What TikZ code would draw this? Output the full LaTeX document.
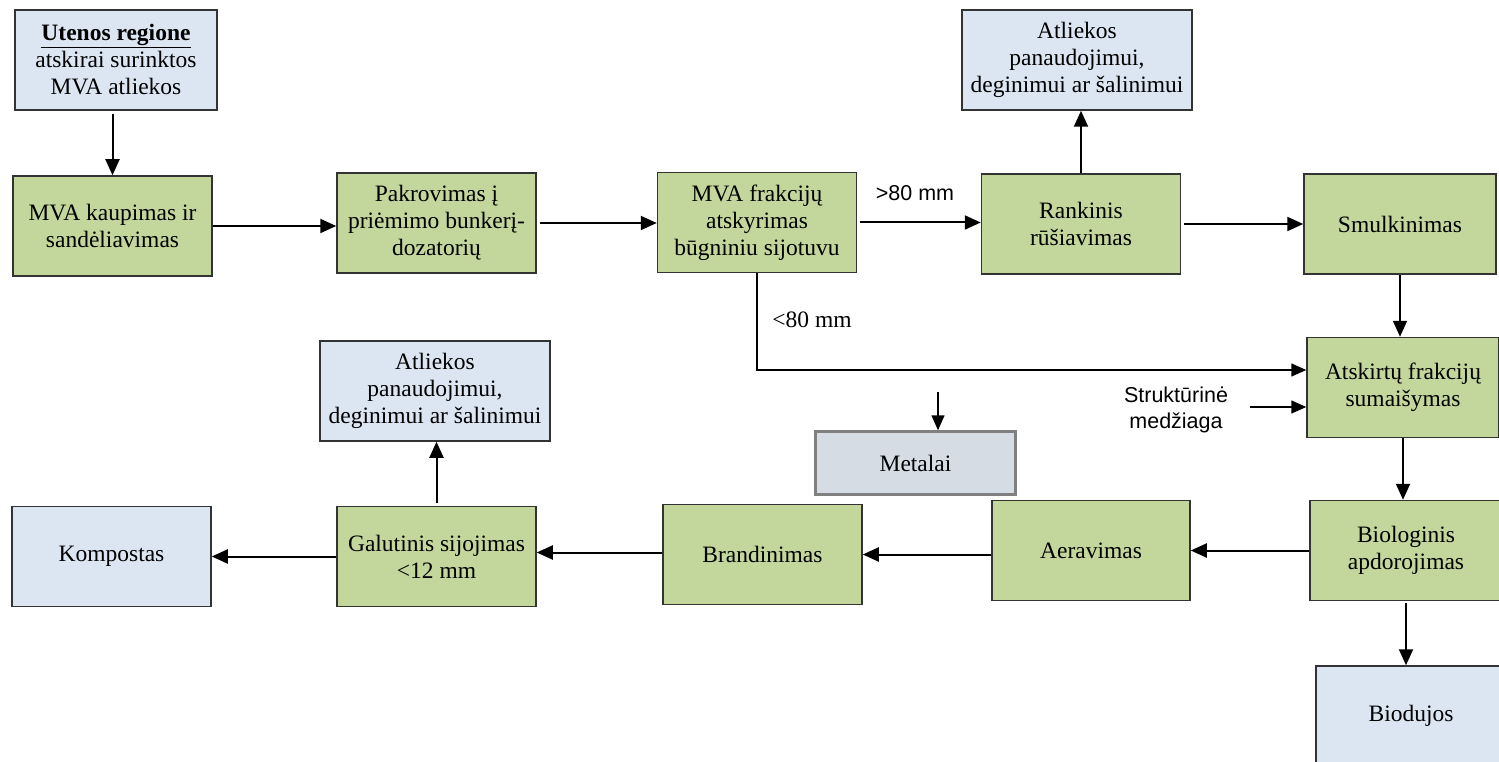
\documentclass[tikz,border=0pt]{standalone}
\usepackage{fontspec}
\setmainfont{Liberation Serif}
\newfontfamily\sansf{Liberation Sans}
\usetikzlibrary{arrows.meta}
\definecolor{gfill}{HTML}{C3D69B}
\definecolor{bfill}{HTML}{DCE6F2}
\definecolor{mfill}{HTML}{D6DCE4}
\tikzset{
  base/.style={draw=black!80, line width=1.5pt, align=center, inner sep=2pt,
    font=\fontsize{23.5}{27}\selectfont, minimum height=100pt},
  gbox/.style={base, fill=gfill, minimum width=199pt},
  bbox/.style={base, fill=bfill, minimum width=200pt},
  wbox/.style={base, fill=bfill, minimum width=230pt},
  mbox/.style={base, draw=black!50, line width=2.5pt, fill=mfill, minimum width=200pt, minimum height=63pt},
  arr/.style={line width=2pt, -{Triangle[length=16pt,width=14pt]}},
  thinarr/.style={line width=1.5pt, -{Triangle[length=15pt,width=13pt]}},
  lbl/.style={font=\fontsize{23.5}{27}\selectfont, align=center, inner sep=0pt},
  slbl/.style={font=\sansf\fontsize{21.5}{26}\selectfont, align=center, inner sep=0pt}
}
\begin{document}
\begin{tikzpicture}[x=1pt,y=-1pt]
\useasboundingbox (0,0) rectangle (1499,762);
\clip (0,0) rectangle (1499,762);
% top row
\node[bbox, minimum width=202pt] (uten) at (116,60) {\textbf{\underline{Utenos regione}}\\atskirai surinktos\\MVA atliekos};
\node[gbox] (kaup) at (112.5,226) {MVA kaupimas ir\\sandėliavimas};
\node[gbox] (pakr) at (436.5,223) {Pakrovimas į\\priėmimo bunkerį-\\dozatorių};
\node[gbox] (frak) at (757,222.5) {MVA frakcijų\\atskyrimas\\būgniniu sijotuvu};
\node[wbox] (atl1) at (1077,60) {Atliekos\\panaudojimui,\\deginimui ar šalinimui};
\node[gbox] (rank) at (1081,224) {Rankinis\\rūšiavimas};
\node[gbox, minimum width=192pt] (smulk) at (1400,224) {Smulkinimas};
% middle
\node[gbox, minimum width=192pt] (atsk) at (1403,387.5) {Atskirtų frakcijų\\sumaišymas};
\node[slbl] (strukt) at (1176,410) {Struktūrinė\\medžiaga};
\node[mbox] (metal) at (915.5,463) {Metalai};
\node[wbox] (atl2) at (435,391) {Atliekos\\panaudojimui,\\deginimui ar šalinimui};
% bottom row
\node[gbox, minimum width=192pt] (bio) at (1406,550.5) {Biologinis\\apdorojimas};
\node[gbox, minimum width=198pt] (aer) at (1091,550.5) {Aeravimas};
\node[gbox] (brand) at (762.5,554.5) {Brandinimas};
\node[gbox] (gal) at (436.5,556.5) {Galutinis sijojimas\\<12 mm};
\node[bbox, minimum width=199pt] (komp) at (111.5,556.5) {Kompostas};
\node[bbox, minimum width=190pt] (biod) at (1411,716) {Biodujos};
% labels
\node[slbl] (gt) at (915,193) {>80 mm};
\node[lbl] (lt) at (812,320) {<80 mm};
% connectors
\draw[arr] ([yshift=-3pt]kaup.north |- uten.south) -- (kaup.north);
\draw[arr] (kaup.east) -- (kaup.east -| pakr.west);
\draw[arr] ([xshift=3pt]pakr.east) -- (pakr.east -| frak.west);
\draw[arr] ([xshift=3pt]frak.east) -- (frak.east -| rank.west);
\draw[arr] (rank.north) -- (rank.north |- atl1.south);
\draw[arr] ([xshift=3pt]rank.east) -- (rank.east -| smulk.west);
\draw[arr] (smulk.south) -- (smulk.south |- atsk.north);
\draw[thinarr] (frak.south) |- ([yshift=17.5pt]atsk.west);
\draw[thinarr] ([xshift=22pt,yshift=3pt]strukt.east) -- ([yshift=3pt]strukt.east -| atsk.west);
\coordinate (mtop) at (938,392);
\draw[thinarr] (mtop) -- (mtop |- metal.north);
\draw[arr] (atsk.south) -- (atsk.south |- bio.north);
\draw[arr] (bio.west) -- (bio.west -| aer.east);
\draw[arr] ([yshift=-4pt]aer.west) -- ([yshift=-4pt]aer.west -| brand.east);
\draw[arr] ([yshift=2pt]brand.west) -- ([yshift=2pt]brand.west -| gal.east);
\draw[arr] (gal.west) -- (gal.west -| komp.east);
\draw[arr] ([yshift=3pt]gal.north) -- (gal.north |- atl2.south);
\draw[arr] ([yshift=-2pt]bio.south) -- (bio.south |- biod.north);
\end{tikzpicture}
\end{document}
